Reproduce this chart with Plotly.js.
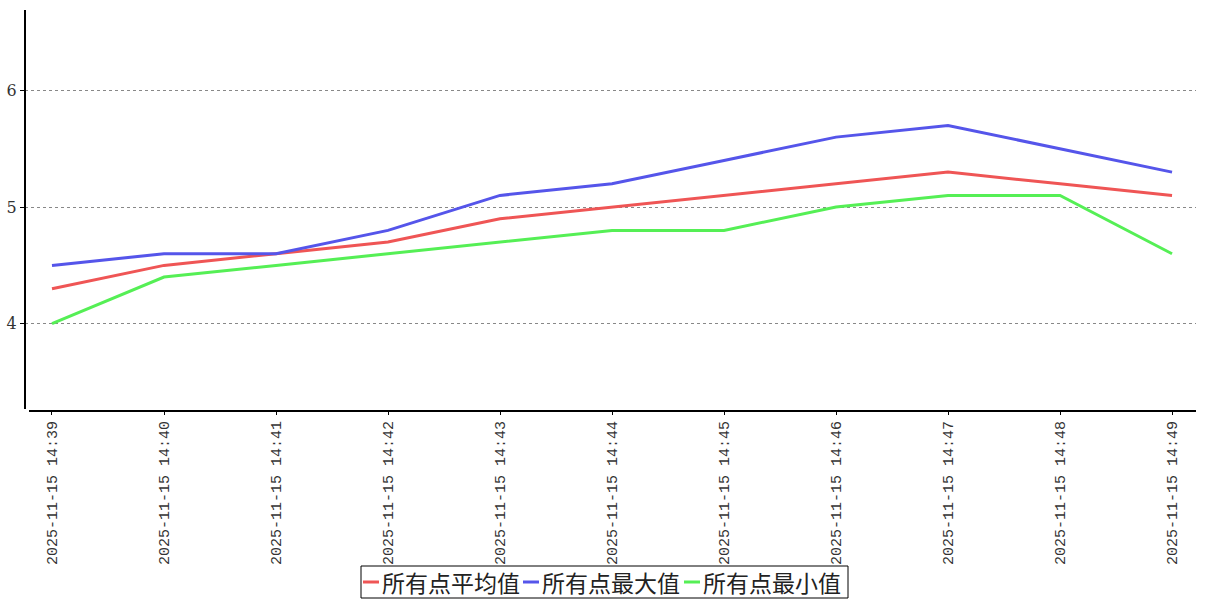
<!DOCTYPE html>
<html><head><meta charset="utf-8">
<script src="https://cdn.plot.ly/plotly-3.0.1.min.js"></script>
<style>html,body{margin:0;padding:0;background:#fff}#chart{width:1207px;height:600px}</style>
</head><body><div id="chart"></div>
<script>
const categories = ["2025-11-15 14:39","2025-11-15 14:40","2025-11-15 14:41","2025-11-15 14:42","2025-11-15 14:43","2025-11-15 14:44","2025-11-15 14:45","2025-11-15 14:46","2025-11-15 14:47","2025-11-15 14:48","2025-11-15 14:49"];
const tickLabels = categories.slice();
const seriesNames = ["所有点平均值","所有点最大值","所有点最小值"];
const avgValues = [4.3,4.5,4.6,4.7,4.9,5.0,5.1,5.2,5.3,5.2,5.1];
const maxValues = [4.5,4.6,4.6,4.8,5.1,5.2,5.4,5.6,5.7,5.5,5.3];
const minValues = [4.0,4.4,4.5,4.6,4.7,4.8,4.8,5.0,5.1,5.1,4.6];
const colors = ["#ef5555","#5555ea","#55ef55"];
const yTicks = [4,5,6];

const allSeries = [avgValues,maxValues,minValues];
const traces = allSeries.map((v,i)=>({
  type:'scatter', mode:'lines', x:categories, y:v, name:seriesNames[i],
  line:{color:colors[i], width:3}, showlegend:false, hoverinfo:'skip'
}));

const legendX = [363,523,684];
const W = 1207, H = 600, ml = 25, mr = 11, mt = 10, mb = 190;
const pw = W-ml-mr, ph = H-mt-mb;
const px = x => (x-ml)/pw;
const py = y => (H-mb-y)/ph;
const shapes = [
  {type:'line', xref:'paper', yref:'paper', x0:0, x1:0, y0:py(409), y1:1, line:{color:'#000', width:2}},
  {type:'line', xref:'paper', yref:'paper', x0:px(29), x1:1, y0:py(411), y1:py(411), line:{color:'#000', width:2}},
  {type:'rect', xref:'paper', yref:'paper', x0:px(361), x1:px(848), y0:py(566), y1:py(598), line:{color:'#000', width:1}, fillcolor:'rgba(0,0,0,0)'}
];
const annotations = [];
seriesNames.forEach((n,i)=>{
  shapes.push({type:'line', xref:'paper', yref:'paper', x0:px(legendX[i]), x1:px(legendX[i]+16), y0:py(582), y1:py(582), line:{color:colors[i], width:3}});
  annotations.push({xref:'paper', yref:'paper', x:px(legendX[i]+17), y:py(582), xanchor:'left', yanchor:'middle', showarrow:false, text:n, font:{family:'"Noto Sans CJK SC", sans-serif', size:23, color:'#222'}});
});

const layout = {
  width:W, height:H, margin:{l:ml, r:mr, t:mt, b:mb, pad:0},
  paper_bgcolor:'#fff', plot_bgcolor:'#fff', showlegend:false,
  xaxis:{type:'category', range:[-0.241,10.214], tickvals:categories, ticktext:tickLabels, tickangle:-90,
    showgrid:false, zeroline:false, showline:false, ticks:'outside', ticklen:4, tickcolor:'#000', tickwidth:1,
    tickfont:{family:'"Liberation Mono", monospace', size:15, color:'#333'}, automargin:false},
  yaxis:{range:[3.26,6.69], tickvals:yTicks, ticktext:yTicks.map(String), showgrid:true, gridcolor:'#888', griddash:'dot', gridwidth:1,
    zeroline:false, showline:false, ticks:'outside', ticklen:4, tickcolor:'#000',
    tickfont:{family:'"DejaVu Serif", serif', size:16, color:'#333'}, automargin:false},
  shapes:shapes, annotations:annotations
};
Plotly.newPlot('chart', traces, layout, {displayModeBar:false, staticPlot:true});
</script></body></html>
